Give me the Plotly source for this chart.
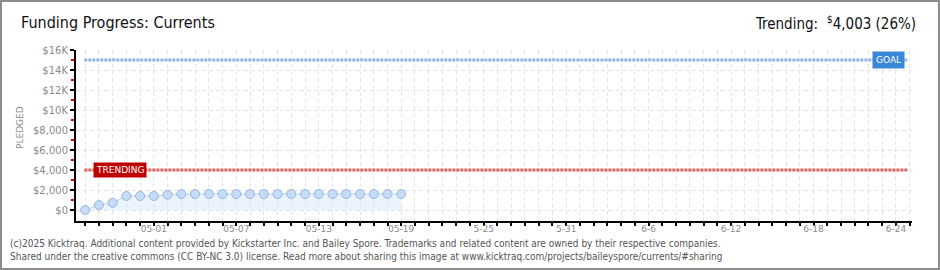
import plotly.graph_objects as go

# ---- data ----
dates = ["2025-04-26", "2025-04-27", "2025-04-28", "2025-04-29", "2025-04-30",
         "2025-05-01", "2025-05-02", "2025-05-03", "2025-05-04", "2025-05-05",
         "2025-05-06", "2025-05-07", "2025-05-08", "2025-05-09", "2025-05-10",
         "2025-05-11", "2025-05-12", "2025-05-13", "2025-05-14", "2025-05-15",
         "2025-05-16", "2025-05-17", "2025-05-18", "2025-05-19"]
pledged = [0, 500, 730, 1400, 1400, 1400, 1530, 1600, 1600, 1600,
           1600, 1600, 1600, 1600, 1600, 1600, 1600, 1600, 1600, 1600,
           1600, 1600, 1600, 1600]
goal = 15000
trending = 4003
trending_pct = 26

x_tick_vals = ["2025-05-01", "2025-05-07", "2025-05-13", "2025-05-19", "2025-05-25",
               "2025-05-31", "2025-06-06", "2025-06-12", "2025-06-18", "2025-06-24"]
x_tick_text = ["05-01", "05-07", "05-13", "05-19", "5-25", "5-31", "6-6", "6-12", "6-18", "6-24"]
y_tick_vals = [0, 2000, 4000, 6000, 8000, 10000, 12000, 14000, 16000]
y_tick_text = ["$0", "$2,000", "$4,000", "$6,000", "$8,000", "$10K", "$12K", "$14K", "$16K"]
y_minor_vals = [1000, 3000, 5000, 7000, 9000, 11000, 13000, 15000]

x_range = ["2025-04-25 08:00", "2025-06-25 04:00"]
y_range = [-1100, 16000]

# ---- layout geometry (pixels) ----
W, H = 940, 270
L, R, T, B = 76, 28, 50, 49
PW, PH = W - L - R, H - T - B


def px(x):
    return (x - L) / PW


def py(y):
    return (H - B - y) / PH


fig = go.Figure()

fig.add_trace(go.Scatter(
    x=dates, y=pledged, mode="lines+markers",
    fill="tozeroy", fillcolor="rgba(205,224,247,0.4)",
    line=dict(color="#b8d2f1", width=1),
    marker=dict(size=9, color="#c6dcf6", line=dict(color="#95b6e0", width=1)),
    hoverinfo="x+y", showlegend=False,
))

# goal and trending lines
fig.add_shape(type="line", xref="paper", yref="y", x0=0.01, x1=0.995, y0=goal, y1=goal,
              line=dict(color="#8fb4e3", width=3, dash="3px,1px"), layer="above")
fig.add_shape(type="line", xref="paper", yref="y", x0=0.01, x1=0.995, y0=trending, y1=trending,
              line=dict(color="#e06262", width=3, dash="3px,1px"), layer="above")

# frame
fig.add_shape(type="rect", xref="paper", yref="paper",
              x0=px(1), x1=px(939), y0=py(1), y1=py(269),
              line=dict(color="#8c8c8c", width=2), fillcolor="rgba(0,0,0,0)", layer="below")

gridc = "#e3e3e3"
tickfont = dict(family="DejaVu Sans", size=9, color="#8a8a8a")
ytickfont = dict(family="DejaVu Sans", size=10, color="#8a8a8a")

fig.update_xaxes(
    type="date", range=x_range,
    tickmode="array", tickvals=x_tick_vals, ticktext=x_tick_text,
    ticks="outside", ticklen=3, tickcolor="#000", tickwidth=2,
    ticklabelstandoff=-5,
    showline=True, linecolor="#000", linewidth=2,
    showgrid=True, gridcolor=gridc, griddash="4px,3px", gridwidth=1,
    minor=dict(tick0="2025-04-26", dtick=86400000, ticks="outside", ticklen=3,
               tickcolor="#000", tickwidth=2, showgrid=True, gridcolor=gridc,
               griddash="4px,3px", gridwidth=1),
    tickfont=tickfont, zeroline=False, fixedrange=True,
)
fig.update_yaxes(
    range=y_range,
    tickmode="array", tickvals=y_tick_vals, ticktext=y_tick_text,
    ticks="outside", ticklen=4, tickcolor="#000", tickwidth=2,
    showline=True, linecolor="#000", linewidth=2,
    showgrid=True, gridcolor=gridc, griddash="4px,3px", gridwidth=1,
    minor=dict(tickmode="array", tickvals=y_minor_vals, ticks="outside", ticklen=3,
               tickcolor="#e00000", tickwidth=2, showgrid=False),
    tickfont=ytickfont, zeroline=False, fixedrange=True,
)

annotations = [
    dict(text="Funding Progress: Currents", xref="paper", yref="paper",
         x=px(19), y=py(23), xanchor="left", yanchor="middle", showarrow=False,
         font=dict(family="DejaVu Sans Condensed", size=16, color="#111")),
    dict(text="Trending:  <sup>$</sup>%s (%d%%)" % (f"{trending:,}", trending_pct),
         xref="paper", yref="paper",
         x=px(918), y=py(23), xanchor="right", yanchor="middle", showarrow=False,
         font=dict(family="DejaVu Sans Condensed", size=15, color="#111")),
    dict(text="PLEDGED", xref="paper", yref="paper", x=px(20), y=py(128),
         xanchor="center", yanchor="middle", textangle=-90, showarrow=False,
         font=dict(family="DejaVu Sans", size=9, color="#8a8a8a")),
    dict(text="GOAL", xref="paper", yref="y", x=px(888), y=goal,
         xanchor="center", yanchor="middle", showarrow=False,
         bgcolor="#3a87d6", borderpad=3,
         font=dict(family="DejaVu Sans", size=9, color="#ffffff")),
    dict(text="TRENDING", xref="paper", yref="y", x=px(120), y=trending,
         xanchor="center", yanchor="middle", showarrow=False,
         bgcolor="#c00000", borderpad=2,
         font=dict(family="DejaVu Sans", size=9, color="#ffffff")),
    dict(text="(c)2025 Kicktraq. Additional content provided by Kickstarter Inc. and Bailey Spore. "
              "Trademarks and related content are owned by their respective companies.<br>"
              "Shared under the creative commons (CC BY-NC 3.0) license. Read more about sharing this "
              "image at www.kicktraq.com/projects/baileyspore/currents/#sharing",
         xref="paper", yref="paper", x=px(8), y=py(236), xanchor="left", yanchor="top",
         align="left", showarrow=False,
         font=dict(family="DejaVu Sans Condensed", size=10, color="#555")),
]

fig.update_layout(
    width=W, height=H, margin=dict(l=L, r=R, t=T, b=B),
    paper_bgcolor="#ffffff", plot_bgcolor="#ffffff",
    annotations=annotations, showlegend=False,
)

fig.write_html("out.html", config={"displayModeBar": False})
